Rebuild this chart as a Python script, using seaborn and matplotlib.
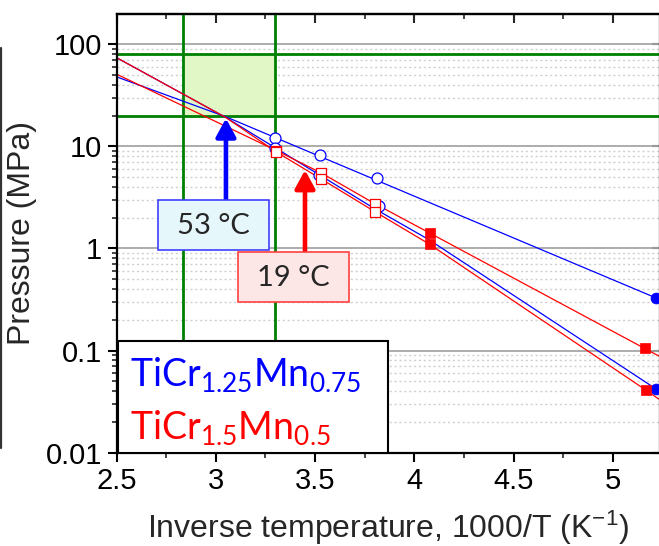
import matplotlib
matplotlib.use('Agg')
import matplotlib.pyplot as plt
import matplotlib.ticker as mticker
from matplotlib.lines import Line2D
from matplotlib.patches import Rectangle
import pandas as pd
import seaborn as sns

# --- data (x = 1000/T in 1/K, p in MPa) ---
# TiCr1.25Mn0.75, upper branch (open circles + filled circle at low T)
blue_a_x = [3.30, 3.527, 3.81]
blue_a_p = [12.2, 8.2, 4.9]
blue_a_fx = [5.217]
blue_a_fp = [0.33]
blue_a_line_x = [2.5, 3.05, 5.30]
blue_a_line_p = [48, 19.5, 0.28]

# TiCr1.25Mn0.75, lower branch
blue_b_x = [3.30, 3.52, 3.82]
blue_b_p = [9.7, 5.3, 2.6]
blue_b_fx = [5.217]
blue_b_fp = [0.042]
blue_b_line_x = [2.5, 3.05, 3.80, 4.073, 5.217, 5.30]
blue_b_line_p = [74, 19.2, 2.45, 1.22, 0.042, 0.032]

# TiCr1.5Mn0.5, upper branch (open squares + filled squares)
red_c_x = [3.305, 3.53, 3.80]
red_c_p = [9.1, 5.5, 2.75]
red_c_fx = [4.076, 5.159]
red_c_fp = [1.42, 0.105]
red_c_line_x = [2.5, 3.305, 3.53, 3.80, 4.076, 5.159, 5.30]
red_c_line_p = [51, 9.1, 5.5, 2.75, 1.42, 0.105, 0.075]

# TiCr1.5Mn0.5, lower branch
red_d_x = [3.305, 3.53, 3.80]
red_d_p = [8.8, 4.8, 2.3]
red_d_fx = [4.076, 5.167]
red_d_fp = [1.10, 0.0408]
red_d_line_x = [2.5, 3.05, 3.305, 3.53, 3.80, 4.076, 5.167, 5.30]
red_d_line_p = [74, 19.2, 8.8, 4.8, 2.3, 1.10, 0.0408, 0.027]

# operating window: 30..80 degC and 20..80 MPa
window_x = [1000 / 353, 1000 / 303]
window_p = [20, 80]

# arrows marking the temperatures where 20 MPa is reached
blue_arrow_x, blue_arrow_p = 3.051, [2.97, 18.8]
red_arrow_x, red_arrow_p = 3.449, [0.93, 5.86]

BLUE = '#0000ff'
RED = '#ff0000'
GREEN = '#008000'

sns.set_style('ticks')
plt.rcParams['font.family'] = ['Liberation Sans', 'DejaVu Sans']
plt.rcParams['mathtext.fontset'] = 'custom'
plt.rcParams['mathtext.rm'] = 'Lato'
plt.rcParams['mathtext.default'] = 'regular'

fig = plt.figure(figsize=(6.59, 5.46), dpi=100)
ax = fig.add_axes([0.1768, 0.1709, 0.8240, 0.8035])
ax.set_yscale('log')

# green window
ax.fill_between(window_x, window_p[0], window_p[1], color='#e2f7c6', lw=0, zorder=1)
for p in window_p:
    ax.axhline(p, color=GREEN, lw=2.0, zorder=1.5)
for x in window_x:
    ax.axvline(x, color=GREEN, lw=2.0, zorder=1.5)

# fit lines
lines = pd.concat([
    pd.DataFrame({'x': blue_a_line_x, 'p': blue_a_line_p, 'series': 'blue_a'}),
    pd.DataFrame({'x': blue_b_line_x, 'p': blue_b_line_p, 'series': 'blue_b'}),
    pd.DataFrame({'x': red_c_line_x, 'p': red_c_line_p, 'series': 'red_c'}),
    pd.DataFrame({'x': red_d_line_x, 'p': red_d_line_p, 'series': 'red_d'}),
], ignore_index=True)
pal = {'blue_a': BLUE, 'blue_b': BLUE, 'red_c': RED, 'red_d': RED}
sns.lineplot(data=lines, x='x', y='p', hue='series', palette=pal, estimator=None,
             sort=False, lw=0.9, legend=False, ax=ax, zorder=2)

# symbols
sns.scatterplot(x=blue_a_x + blue_b_x, y=blue_a_p + blue_b_p, marker='o', s=62,
                facecolor='white', edgecolor=BLUE, linewidth=0.9, ax=ax, zorder=3)
sns.scatterplot(x=blue_a_fx + blue_b_fx, y=blue_a_fp + blue_b_fp, marker='o', s=62,
                color=BLUE, edgecolor=BLUE, linewidth=0.5, ax=ax, zorder=3)
sns.scatterplot(x=red_c_x + red_d_x, y=red_c_p + red_d_p, marker='s', s=55,
                facecolor='white', edgecolor=RED, linewidth=0.9, ax=ax, zorder=3.2)
sns.scatterplot(x=red_c_fx + red_d_fx, y=red_c_fp + red_d_fp, marker='s', s=58,
                color=RED, edgecolor=RED, linewidth=0.5, ax=ax, zorder=3.2)

# arrows
for xa, pa, col in [(blue_arrow_x, blue_arrow_p, BLUE), (red_arrow_x, red_arrow_p, RED)]:
    ax.annotate('', xy=(xa, pa[1]), xytext=(xa, pa[0]),
                arrowprops=dict(arrowstyle='-|>,head_length=0.55,head_width=0.3',
                                color=col, lw=3.3, mutation_scale=20,
                                shrinkA=0, shrinkB=0), zorder=4)

# temperature boxes
ax.add_patch(Rectangle((0.0765, 0.462), 0.204, 0.114, transform=ax.transAxes,
                       facecolor='#e6f7fc', edgecolor='#4040ff', lw=1.2, zorder=5))
ax.text(0.1785, 0.517, '53 °C', transform=ax.transAxes, ha='center', va='center',
        fontsize=21, family='Lato', zorder=6)
ax.add_patch(Rectangle((0.2234, 0.3442), 0.2052, 0.114, transform=ax.transAxes,
                       facecolor='#fde6e6', edgecolor='#ff4040', lw=1.2, zorder=5))
ax.text(0.326, 0.399, '19 °C', transform=ax.transAxes, ha='center', va='center',
        fontsize=21, family='Lato', zorder=6)

# legend box
ax.add_patch(Rectangle((0.0028, 0.0), 0.498, 0.2553, transform=ax.transAxes,
                       facecolor='white', edgecolor='black', lw=1.5, zorder=5))
ax.text(0.0249, 0.178, 'TiCr$_{1.25}$Mn$_{0.75}$', transform=ax.transAxes,
        ha='left', va='center', fontsize=27, family='Lato', color=BLUE, zorder=6)
ax.text(0.0249, 0.058, 'TiCr$_{1.5}$Mn$_{0.5}$', transform=ax.transAxes,
        ha='left', va='center', fontsize=27, family='Lato', color=RED, zorder=6)

# axes, ticks, grid
ax.set_xlim(2.5, 5.234)
ax.set_ylim(0.01, 198)
ax.set_xticks([2.5, 3, 3.5, 4, 4.5, 5])
ax.set_xticklabels(['2.5', '3', '3.5', '4', '4.5', '5'])
ax.xaxis.set_minor_locator(mticker.MultipleLocator(0.25))
ax.set_yticks([0.01, 0.1, 1, 10, 100])
ax.set_yticklabels(['0.01', '0.1', '1', '10', '100'])
ax.yaxis.set_minor_locator(mticker.LogLocator(base=10, subs=[2, 3, 4, 5, 6, 7, 8, 9]))
ax.yaxis.set_minor_formatter(mticker.NullFormatter())

ax.tick_params(axis='both', which='major', direction='out', length=6.5, width=1.5,
               labelsize=21, colors='black')
ax.tick_params(axis='both', which='minor', direction='out', length=3.5, width=1.2)
ax.tick_params(axis='x', which='major', pad=3.5)
ax.tick_params(axis='y', which='major', pad=4)

top = ax.secondary_xaxis('top')
top.set_xticks([2.5, 3, 3.5, 4, 4.5, 5])
top.xaxis.set_minor_locator(mticker.MultipleLocator(0.25))
top.tick_params(which='major', direction='in', length=6.5, width=1.5, labeltop=False)
top.tick_params(which='minor', direction='in', length=3.5, width=1.2)
top.spines['top'].set_linewidth(1.6)

right = ax.secondary_yaxis('right')
right.set_yticks([0.01, 0.1, 1, 10, 100])
right.tick_params(which='major', direction='in', length=6, width=1.5, labelright=False)
right.tick_params(which='minor', length=0)

ax.set_axisbelow(True)
ax.grid(which='major', axis='y', color='#a6a6a6', lw=1.3)
ax.grid(which='minor', axis='y', color='#cfcfcf', lw=1.0, ls=(0, (1.5, 2)))
ax.grid(which='both', axis='x', visible=False)

for side in ['left', 'bottom', 'top', 'right']:
    ax.spines[side].set_linewidth(1.6)
    ax.spines[side].set_color('black')

ax.set_xlabel('Inverse temperature, 1000/T (K$^{-1}$)', fontsize=23, labelpad=10)
ax.set_ylabel('Pressure (MPa)', fontsize=23, labelpad=6)

# edge of the neighbouring panel
fig.add_artist(Line2D([0.002, 0.002], [1 - 48 / 546, 1 - 448 / 546],
                      transform=fig.transFigure, color='#333333', lw=1.6))

fig.savefig('out.png', dpi=100)
